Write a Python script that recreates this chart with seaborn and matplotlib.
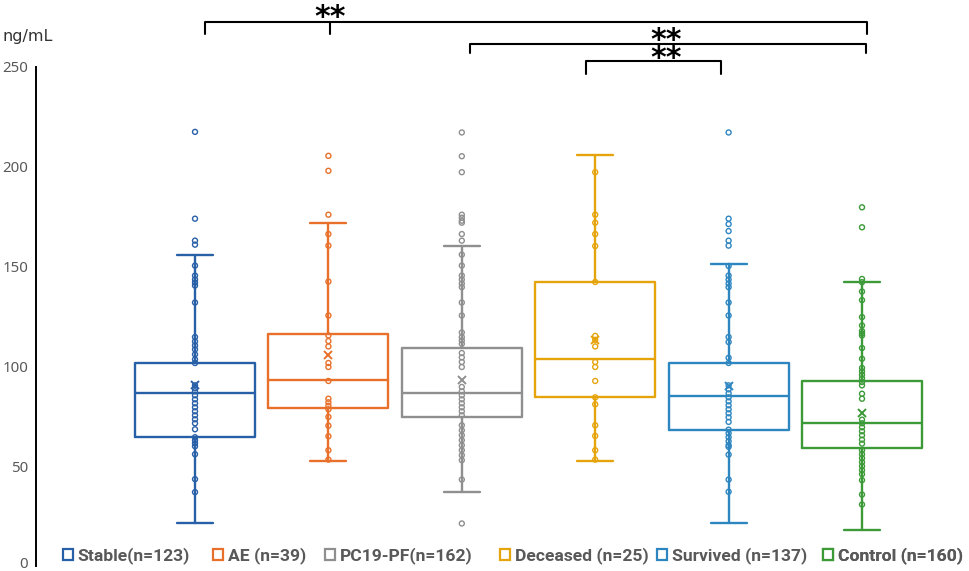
import numpy as np
import pandas as pd
import matplotlib
matplotlib.use("Agg")
import matplotlib.pyplot as plt
import matplotlib.transforms as mtrans
import seaborn as sns
from matplotlib.patches import Patch

# ---------------- data ----------------
groups = ["Stable", "AE", "PC19-PF", "Deceased", "Survived", "Control"]
legend_labels = ["Stable(n=123)", "AE (n=39)", "PC19-PF(n=162)",
                 "Deceased (n=25)", "Survived (n=137)", "Control (n=160)"]
colors = ["#2860A8", "#E8702A", "#8F8F8F", "#E6A40C", "#2E86C1", "#3C9A38"]

stable = [217.5, 174, 163, 161, 150.5, 145.5, 143.5, 142, 140.5, 132, 114.7, 112.5,
          110.5, 108.5, 106, 103.5, 101.7, 90.5, 89, 87.5, 85.5, 83.5, 81.5, 79.5,
          77.5, 75.5, 73.5, 71.5, 68.5, 64.5, 63, 61.5, 60, 56, 43.5, 37]
ae = [205.5, 198, 176, 166.3, 160.5, 142.5, 125.5, 115.5, 112.7, 110, 101.7, 99.7,
      92.7, 83.8, 82, 80.3, 78.5, 74.7, 70.3, 65, 58, 53.3]
pc19 = [217.2, 205.3, 197.3, 176, 174.5, 173, 172, 166.3, 163, 156, 150.5, 145.5,
        143.5, 141.5, 139.7, 132, 125.5, 117, 114.7, 113, 111.3, 106.7, 104.5, 102.2,
        99.7, 89.7, 87.5, 85.5, 83.5, 81.5, 79.5, 77.5, 75.5, 70.5, 68, 65.5, 63,
        60.5, 58, 55.5, 53, 43.3, 21.3]
deceased = [197.3, 176, 172, 166.3, 160.3, 142.3, 115.3, 113.3, 110, 102.2, 99.7,
            92.7, 84.5, 81, 70.5, 65.2, 58, 53.3]
survived = [217.2, 174, 171.3, 167.8, 163, 160.5, 150.3, 145.5, 143.5, 141.5, 139.7,
            132, 125.5, 114.7, 112.2, 104.3, 101.7, 90.5, 88.5, 86.5, 84.5, 82.5, 80.5,
            78.5, 76.5, 74.5, 72.2, 68.3, 66.5, 64.5, 62.5, 60.5, 59.7, 55.8, 43.3, 37.2]
control = [179.7, 169.7, 143.8, 142.2, 137.5, 133.2, 124.7, 120.5, 117.7, 116.5, 115.5,
           109.2, 103.8, 99.2, 97.5, 95.8, 94, 92.2, 90.5, 86.3, 83.8, 73.3, 71.5, 69.5,
           67.5, 65.5, 63.3, 61.3, 58, 56, 54, 52, 50, 48, 46, 43, 35.8, 30.8]
values = [stable, ae, pc19, deceased, survived, control]

# box statistics
whisker_low = [21.7, 52.7, 37.3, 52.5, 21.7, 18.0]
q1 = [64.5, 79.2, 74.5, 84.5, 68.3, 59.2]
median = [86.8, 93.3, 86.8, 103.5, 85.2, 71.8]
q3 = [101.7, 116.3, 109.2, 142.3, 101.7, 92.5]
whisker_high = [155.7, 171.8, 160.3, 205.7, 151.2, 142.2]
means = [90.5, 105.5, 93.0, 113.3, 90.0, 76.7]

yticks = [0, 50, 100, 150, 200, 250]

# ---------------- figure ----------------
sns.set_style("white")
plt.rcParams["font.family"] = ["DejaVu Sans"]

W, H = 969, 571
fig = plt.figure(figsize=(W / 100, H / 100), dpi=100)
ax = fig.add_axes([36 / W, 5 / H, (W - 36) / W, 499 / H])

df = pd.DataFrame({
    "group": np.repeat(groups, [len(v) for v in values]),
    "value": np.concatenate([np.asarray(v, float) for v in values]),
})

sns.stripplot(data=df, x="group", y="value", hue="group", order=groups,
              hue_order=groups, palette=colors, jitter=False, size=3.6,
              linewidth=1.0, legend=False, ax=ax, zorder=3)
for coll in ax.collections:
    fc = coll.get_facecolors()
    coll.set_edgecolors(fc)
    coll.set_facecolors("none")

for i, c in enumerate(colors):
    st = dict(whislo=whisker_low[i], q1=q1[i], med=median[i], q3=q3[i],
              whishi=whisker_high[i], mean=means[i], fliers=[])
    ax.bxp([st], positions=[i], widths=0.9, capwidths=0.27, showmeans=True,
           showfliers=False, manage_ticks=False, zorder=2,
           boxprops=dict(color=c, lw=1.7),
           whiskerprops=dict(color=c, lw=1.7),
           capprops=dict(color=c, lw=1.7),
           medianprops=dict(color=c, lw=1.7),
           meanprops=dict(marker="x", markeredgecolor=c, markerfacecolor=c,
                          markersize=6, markeredgewidth=1.4))

ax.set_xlim(-1.192, 5.802)
ax.set_ylim(0, 250)
ax.set_yticks(yticks)
ax.set_xticks([])
ax.set_xlabel("")
ax.set_ylabel("")
for s in ["top", "right", "bottom"]:
    ax.spines[s].set_visible(False)
ax.spines["left"].set_color("black")
ax.spines["left"].set_linewidth(1.4)
ax.tick_params(axis="y", direction="inout", length=5, width=1.2, color="black",
               labelcolor="#595959", pad=3)
for lab in ax.get_yticklabels():
    lab.set_fontfamily(["Noto Sans", "DejaVu Sans"])
    lab.set_fontsize(10.8)
# keep the "0" label inside the picture
zero_lab = ax.get_yticklabels()[0]
zero_lab.set_transform(zero_lab.get_transform() +
                       mtrans.ScaledTranslation(0, 4 / 100, fig.dpi_scale_trans))
ax.patch.set_alpha(0)

# unit label
fig.text(3 / W, 1 - 36 / H, "ng/mL", ha="left", va="center", fontsize=11.5,
         color="#333333")

# legend entries
legend_x = [63, 213, 325, 500, 657, 823]
for i, c in enumerate(colors):
    leg = ax.legend(handles=[Patch(facecolor="white", edgecolor=c, lw=1.6)],
                    labels=[legend_labels[i]], loc="center left",
                    bbox_to_anchor=(legend_x[i] / W, 1 - 556 / H),
                    bbox_transform=fig.transFigure, frameon=False,
                    borderpad=0, borderaxespad=0, handlelength=0.55,
                    handleheight=0.55, handletextpad=0.3,
                    prop=dict(family=["Roboto", "DejaVu Sans"],
                              weight="bold", size=12.6))
    for t in leg.get_texts():
        t.set_color("#595959")
    ax.add_artist(leg)

# significance brackets (category positions / data values)
bk = dict(color="black", lw=1.5, clip_on=False, solid_joinstyle="round",
          solid_capstyle="round")
ax.plot([0.075, 0.075, 5.037, 5.037], [266.5, 272.5, 272.5, 266.5], **bk)
ax.plot([1.012, 1.012], [272.5, 266.5], **bk)
ax.plot([2.061, 2.061, 5.03, 5.03], [257, 261.5, 261.5, 257], **bk)
ax.plot([2.931, 2.931, 3.943, 3.943], [246.5, 253, 253, 246.5], **bk)

for xs, yb in [(330, 26), (666, 48.7), (666, 66.7)]:
    fig.text(xs / W, 1 - yb / H, "**", ha="center", va="baseline",
             fontsize=21.5, fontweight="bold", color="black")

fig.savefig("out.png", dpi=100)
